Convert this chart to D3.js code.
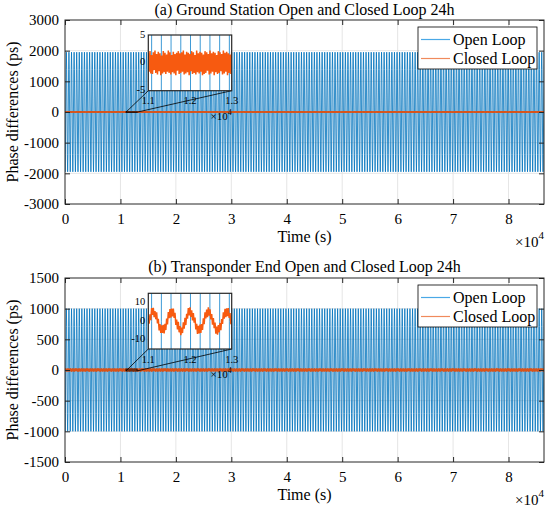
<!DOCTYPE html>
<html>
<head>
<meta charset="utf-8">
<title>Phase differences 24h</title>
<script src="https://cdn.jsdelivr.net/npm/d3@7"></script>
<style>
  body { margin: 0; background: #fff; }
  svg text { font-family: "Liberation Serif", "Times New Roman", serif; fill: #000; }
</style>
</head>
<body>
<svg id="chart" width="550" height="514"></svg>
<script>
// ---- values ----
const dayLength = 86400;                          // s
const xTicks = [0, 1, 2, 3, 4, 5, 6, 7, 8];       // x 10^4 s
const yTicksA = [-3000, -2000, -1000, 0, 1000, 2000, 3000];
const yTicksB = [-1500, -1000, -500, 0, 500, 1000, 1500];
const seriesNames = ["Open Loop", "Closed Loop"];
const titles = ["(a) Ground Station Open and Closed Loop 24h",
                "(b) Transponder End Open and Closed Loop 24h"];

// one period of the open loop swing (ps), 8 samples per period
const openCycleA = [0, 1380, 1950, 1380, 0, -1380, -1950, -1380];
const openCycleB = [0, 710, 1000, 710, 0, -710, -1000, -710];
const openPeriod = 466;      // s
const openFirstRise = 129;   // s, an upward zero crossing

// inset window, 1.1e4 .. 1.3e4 s
const insetRange = [11000, 13000];
const insetTicks = [1.1, 1.2, 1.3];
const insetYTicksA = [-5, 0, 5];
const insetYTicksB = [-10, 0, 10];

// closed loop (ps), evenly spaced across the inset window
const closedA = [1.8,-1.6,2.1,-1.9,1.4,-2.0,1.9,-1.3,2.2,-1.8,1.6,-2.1,2.0,-1.5,1.7,-2.2,1.3,-1.9,2.1,-1.7,
  1.8,-2.0,1.5,-1.6,2.2,-1.8,1.9,-2.1,1.4,-1.7,2.0,-1.9,1.6,-2.2,1.8,-1.4,2.1,-2.0,1.7,-1.8,
  1.9,-1.6,2.2,-2.1,1.5,-1.9,2.0,-1.7,1.8,-2.2,1.6,-1.5,2.1,-2.0,1.9,-1.8,1.4,-2.1,2.2,-1.7,
  1.7,-1.9,2.0,-1.6,1.8,-2.2,1.5,-2.0,2.1,-1.8,1.9,-1.4,1.6,-2.1,2.2,-1.9,1.7,-1.6,2.0,-2.2,
  1.8,-1.7,1.4,-2.0,2.1,-1.8,1.9,-1.5,1.6,-2.1,2.2,-1.9,1.8,-1.6,2.0,-2.2,1.7,-1.8,1.5,-2.0,2.1];
const closedB = [1.7,-1.4,3.7,0.5,7.1,3.3,7.2,2.2,5.4,1.0,4.8,-1.2,1.3,-5.0,-1.6,-6.4,-2.3,-6.4,-2.0,-6.6,-1.4,-4.8,
  1.4,-1.8,4.9,1.6,6.5,1.9,6.8,2.6,6.8,1.7,4.5,-2.0,0.8,-4.4,-0.4,-6.0,-2.7,-7.6,-3.4,-6.4,-0.6,-4.0,
  1.8,-2.1,4.0,1.3,7.0,3.1,7.4,2.3,5.8,0.4,4.3,-0.8,1.9,-4.5,-1.5,-6.9,-2.5,-6.6,-1.9,-6.3,-1.6,-4.7,
  1.5,-1.6,4.8,1.5,6.2,2.1,7.5,2.9,6.4,0.9,3.8,-1.9,1.7,-3.8,-0.7,-6.7,-2.9,-7.3,-2.1,-6.0,-1.0,-4.9,
  1.1,-1.5,4.7,1.3,6.6,2.2,6.9,2.7,7.0,1.7,4.4,-1.7,1.4];

const openColor = "#0072BD";
const closedColor = "#D95319";
const insetClosedColor = "#F75A10";
const boxColor = "#262626";

// repeat the measured period over the whole day
function openSeries(cycle) {
  const pts = [];
  const step = openPeriod / cycle.length;
  let i = 0;
  for (let t = openFirstRise - openPeriod; t <= dayLength + openPeriod; t += step) {
    pts.push([t, cycle[i % cycle.length]]);
    i++;
  }
  return pts;
}

function insetSeries(vals) {
  const span = insetRange[1] - insetRange[0];
  return vals.map((v, i) => [insetRange[0] + i * span / (vals.length - 1), v]);
}

// the closed loop sits on zero at full scale; lay the inset record end to end
function closedSeries(vals) {
  const span = insetRange[1] - insetRange[0];
  const pts = [];
  for (let t0 = 0; t0 < dayLength; t0 += span) {
    vals.forEach((v, i) => pts.push([t0 + i * span / vals.length, v]));
  }
  return pts;
}

const svg = d3.select("#chart");

function panel(o) {
  const g = svg.append("g");
  const x = d3.scaleLinear().domain([0, dayLength]).range([65, 544]);
  const y = d3.scaleLinear().domain(o.yDomain).range([o.bottom, o.top]);
  const line = d3.line().x(d => x(d[0])).y(d => y(d[1]));

  // grid
  g.append("g").selectAll("line").data(xTicks.slice(1)).join("line")
    .attr("x1", d => x(d * 1e4)).attr("x2", d => x(d * 1e4))
    .attr("y1", o.top).attr("y2", o.bottom)
    .attr("stroke", "#dedede").attr("stroke-width", 0.8);
  g.append("g").selectAll("line").data(o.yTicks.slice(1, -1)).join("line")
    .attr("y1", d => y(d)).attr("y2", d => y(d))
    .attr("x1", 65).attr("x2", 544)
    .attr("stroke", "#dedede").attr("stroke-width", 0.8);

  const clipId = "clip" + o.id;
  svg.append("clipPath").attr("id", clipId).append("rect")
    .attr("x", 65).attr("y", o.top).attr("width", 479).attr("height", o.bottom - o.top);

  g.append("path").datum(openSeries(o.openCycle))
    .attr("clip-path", `url(#${clipId})`)
    .attr("d", line).attr("fill", "none")
    .attr("stroke", openColor).attr("stroke-width", 0.8);
  g.append("path").datum(closedSeries(o.closed))
    .attr("clip-path", `url(#${clipId})`)
    .attr("d", line).attr("fill", "none")
    .attr("stroke", closedColor).attr("stroke-width", 1.2);

  // axes, MATLAB style ticks pointing inward
  const ticksX = xTicks.map(d => d * 1e4);
  const ax = [
    d3.axisBottom(x).tickValues(ticksX).tickFormat(d => String(d / 1e4)).tickSizeInner(-5).tickSizeOuter(0).tickPadding(9),
    d3.axisTop(x).tickValues(ticksX).tickFormat("").tickSizeInner(-5).tickSizeOuter(0),
    d3.axisLeft(y).tickValues(o.yTicks).tickFormat(d => String(d)).tickSizeInner(-5).tickSizeOuter(0).tickPadding(6),
    d3.axisRight(y).tickValues(o.yTicks).tickFormat("").tickSizeInner(-5).tickSizeOuter(0)
  ];
  const pos = [`translate(0,${o.bottom})`, `translate(0,${o.top})`, "translate(65,0)", "translate(544,0)"];
  ax.forEach((a, i) => {
    const ag = g.append("g").attr("transform", pos[i]).call(a)
      .attr("font-family", null).attr("font-size", 15);
    ag.select(".domain").remove();
    ag.selectAll("line").attr("stroke", boxColor);
  });
  g.append("rect").attr("x", 65).attr("y", o.top).attr("width", 479).attr("height", o.bottom - o.top)
    .attr("fill", "none").attr("stroke", boxColor).attr("stroke-width", 1);

  // labels
  g.append("text").attr("x", 304.5).attr("y", o.titleY).attr("text-anchor", "middle")
    .attr("font-size", 16).text(o.title);
  g.append("text").attr("x", 304.5).attr("y", o.bottom + 38).attr("text-anchor", "middle")
    .attr("font-size", 16).text("Time (s)");
  g.append("text").attr("transform", `translate(18,${(o.top + o.bottom) / 2}) rotate(-90)`)
    .attr("text-anchor", "middle").attr("font-size", 16).text("Phase differences (ps)");
  const mul = g.append("text").attr("x", 544).attr("y", o.bottom + 43).attr("text-anchor", "end").attr("font-size", 15);
  mul.append("tspan").text("\u00d710");
  mul.append("tspan").attr("dy", -8).attr("font-size", 11).text("4");

  // zoom rectangle and connectors
  const zr = o.inset;
  const ix = d3.scaleLinear().domain(insetRange).range([zr.x0, zr.x1]);
  const iy = d3.scaleLinear().domain(zr.domain).range([zr.y1, zr.y0]);
  g.append("rect").attr("x", x(insetRange[0])).attr("y", y(zr.domain[1]))
    .attr("width", x(insetRange[1]) - x(insetRange[0]))
    .attr("height", Math.max(0.5, y(zr.domain[0]) - y(zr.domain[1])))
    .attr("fill", "none").attr("stroke", "#000").attr("stroke-width", 0.8);
  g.append("line").attr("x1", x(insetRange[0])).attr("y1", y(zr.domain[0]))
    .attr("x2", zr.x0).attr("y2", zr.y1).attr("stroke", "#000").attr("stroke-width", 0.8);
  g.append("line").attr("x1", x(insetRange[1])).attr("y1", y(zr.domain[0]))
    .attr("x2", zr.x1).attr("y2", zr.y1).attr("stroke", "#000").attr("stroke-width", 0.8);

  // inset
  const ig = g.append("g");
  const iclip = "iclip" + o.id;
  svg.append("clipPath").attr("id", iclip).append("rect")
    .attr("x", zr.x0).attr("y", zr.y0).attr("width", zr.x1 - zr.x0).attr("height", zr.y1 - zr.y0);
  ig.append("rect").attr("x", zr.x0).attr("y", zr.y0).attr("width", zr.x1 - zr.x0).attr("height", zr.y1 - zr.y0)
    .attr("fill", "#fff");
  const iline = d3.line().x(d => ix(d[0])).y(d => iy(d[1]));
  ig.append("path").datum(openSeries(o.openCycle).filter(d => d[0] > 10000 && d[0] < 14000))
    .attr("clip-path", `url(#${iclip})`).attr("d", iline).attr("fill", "none")
    .attr("stroke", "#3d9ad6").attr("stroke-width", 1);
  ig.append("path").datum(insetSeries(o.closed))
    .attr("clip-path", `url(#${iclip})`).attr("d", iline).attr("fill", "none")
    .attr("stroke", insetClosedColor).attr("stroke-width", 1.5);
  ig.append("rect").attr("x", zr.x0).attr("y", zr.y0).attr("width", zr.x1 - zr.x0).attr("height", zr.y1 - zr.y0)
    .attr("fill", "none").attr("stroke", boxColor).attr("stroke-width", 1.2);
  ig.selectAll("text.ix").data(insetTicks).join("text").attr("class", "ix")
    .attr("x", d => ix(d * 1e4)).attr("y", zr.y1 + 13.5).attr("text-anchor", "middle")
    .attr("font-size", 10.5).text(d => d.toFixed(1));
  ig.selectAll("text.iy").data(zr.ticks).join("text").attr("class", "iy")
    .attr("x", zr.x0 - 3).attr("y", d => iy(d) + 2.5).attr("text-anchor", "end")
    .attr("font-size", 10.5).text(d => d);
  const imul = ig.append("text").attr("x", zr.x1).attr("y", zr.y1 + 29).attr("text-anchor", "end").attr("font-size", 11);
  imul.append("tspan").text("\u00d710");
  imul.append("tspan").attr("dy", -5).attr("font-size", 8).text("4");

  // legend
  const lg = g.append("g").attr("transform", `translate(418,${o.legendTop})`);
  lg.append("rect").attr("width", 119).attr("height", 42).attr("fill", "#fff")
    .attr("stroke", "#000").attr("stroke-width", 0.8);
  lg.selectAll("line").data(seriesNames).join("line")
    .attr("x1", 3).attr("x2", 32).attr("y1", (d, i) => 12.5 + i * 19).attr("y2", (d, i) => 12.5 + i * 19)
    .attr("stroke", (d, i) => i ? "#F08A5C" : "#4AA8E6").attr("stroke-width", 1.2);
  lg.selectAll("text").data(seriesNames).join("text")
    .attr("x", 35).attr("y", (d, i) => 17.5 + i * 19).attr("font-size", 16).text(d => d);
}

panel({
  id: "a", top: 20, bottom: 204, yDomain: [-3000, 3000], yTicks: yTicksA,
  title: titles[0], titleY: 15, openCycle: openCycleA, closed: closedA, legendTop: 27,
  inset: { x0: 148.3, x1: 231.7, y0: 35, y1: 90.7, domain: [-5, 5], ticks: insetYTicksA }
});
panel({
  id: "b", top: 278, bottom: 462, yDomain: [-1500, 1500], yTicks: yTicksB,
  title: titles[1], titleY: 272, openCycle: openCycleB, closed: closedB, legendTop: 285,
  inset: { x0: 148.3, x1: 231.7, y0: 293.3, y1: 349, domain: [-15, 15], ticks: insetYTicksB }
});
</script>
</body>
</html>
